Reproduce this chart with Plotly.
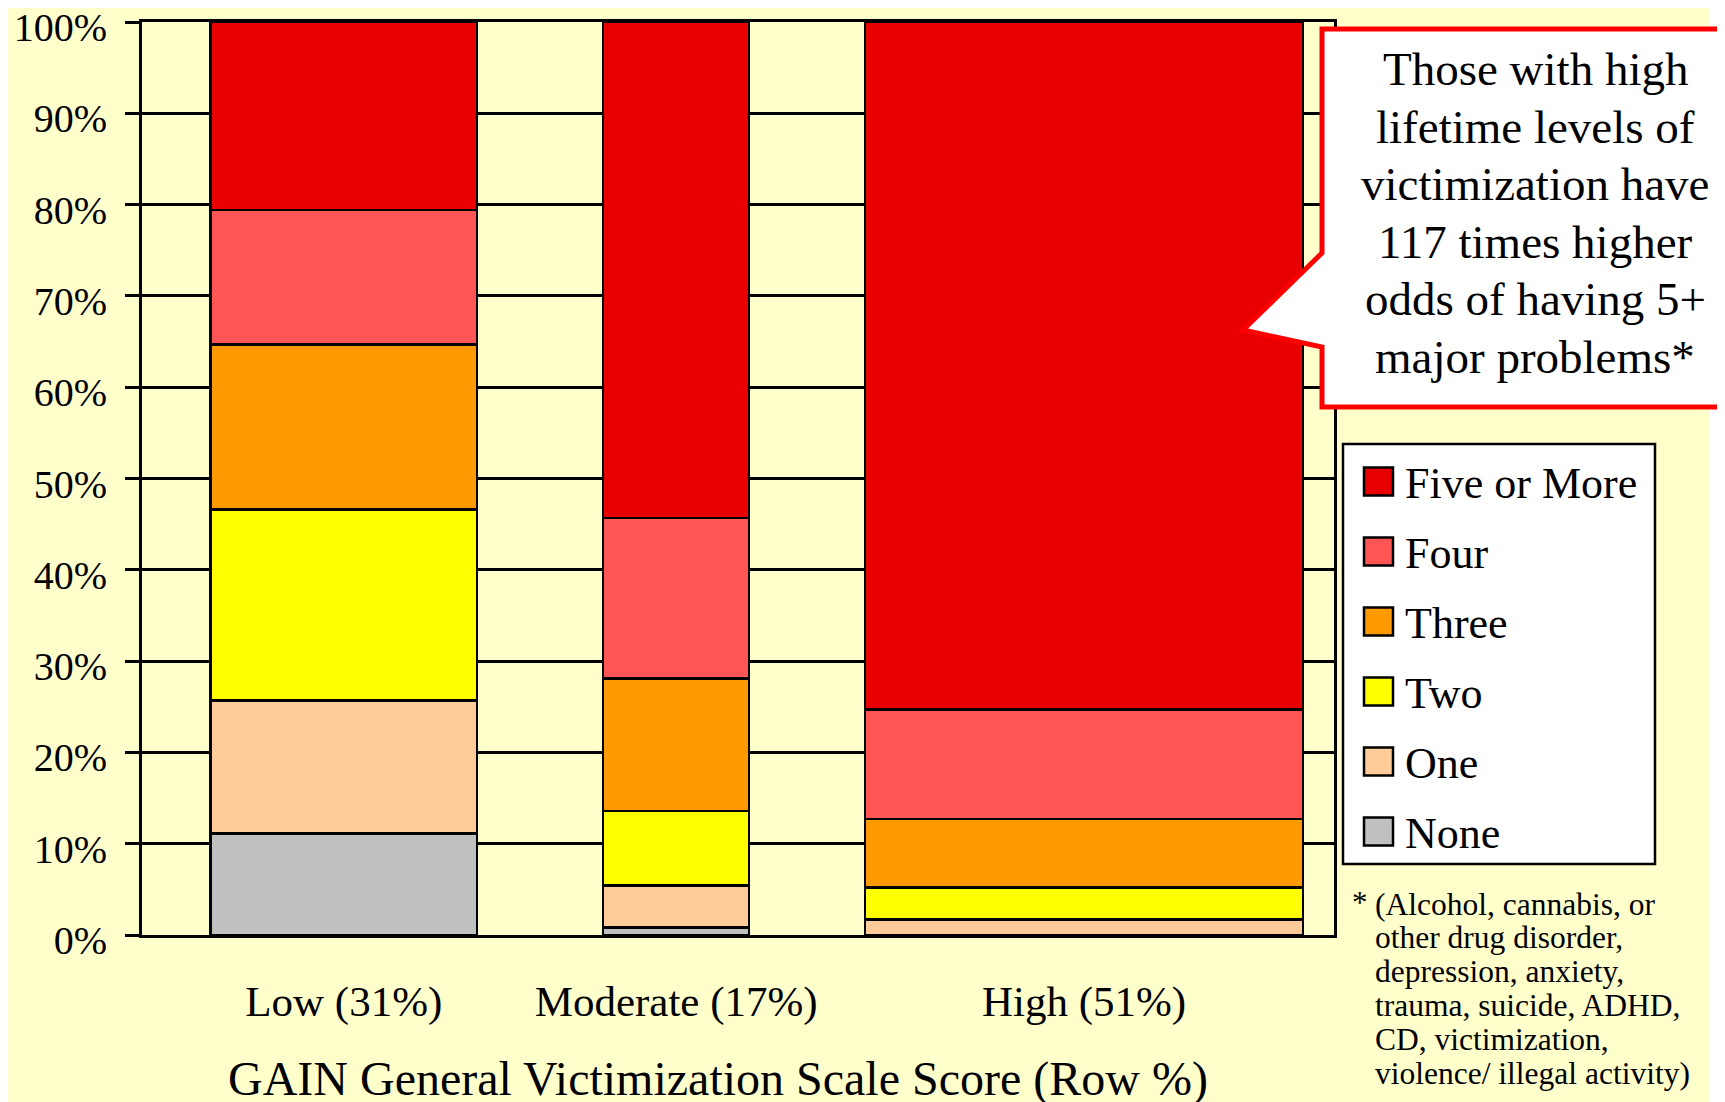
import plotly.graph_objects as go

# ==========================================================
# DATA
# ==========================================================

groups = ["Low", "Moderate", "High"]
group_share = [31, 17, 51]          # row % -> bar width

series = ["None", "One", "Two", "Three", "Four", "Five or More"]
none_vals = [11.1, 0.8, 0.0]
one_vals = [14.6, 4.6, 1.7]
two_vals = [20.9, 8.2, 3.5]
three_vals = [18.1, 14.5, 7.5]
four_vals = [14.7, 17.6, 12.0]
five_vals = [20.6, 54.3, 75.3]

y_ticks = [0, 10, 20, 30, 40, 50, 60, 70, 80, 90, 100]
y_tick_labels = [f"{v}%" for v in y_ticks]

callout_lines = [
    "Those with high",
    "lifetime levels of",
    "victimization have",
    "117 times higher",
    "odds of having 5+",
    "major problems*",
]

footnote_lines = [
    "(Alcohol, cannabis, or",
    "other drug disorder,",
    "depression, anxiety,",
    "trauma, suicide, ADHD,",
    "CD, victimization,",
    "violence/ illegal activity)",
]

# ==========================================================
# STYLE / LAYOUT CONSTANTS
# ==========================================================

FONT = "Liberation Serif, Times New Roman, serif"
BG = "#FFFFCC"
COLORS = {
    "None": "#C0C0C0",
    "One": "#FFCC99",
    "Two": "#FFFF00",
    "Three": "#FF9900",
    "Four": "#FF5555",
    "Five or More": "#E80000",
}

W, H = 1725, 1102
OFF = 8                              # page body margin in the browser
L, R, T, B = 142, 1334, 22, 935     # plot area in page pixels

X_RANGE = 138.8                      # axis width in share units
bar_left = [8.0, 53.7, 84.2]         # left edge of each bar
group_ticks = [0, 45.9, 78.6, X_RANGE]


def px_x(x):
    return (x - L) / (R - L)


def px_y(y):
    return (B - y) / (B - T)


centers = [left + w / 2 for left, w in zip(bar_left, group_share)]
labels = [f"{g} ({s}%)" for g, s in zip(groups, group_share)]
values = [none_vals, one_vals, two_vals, three_vals, four_vals, five_vals]

# ==========================================================
# BARS
# ==========================================================

fig = go.Figure()

for name, vals in zip(series, values):
    fig.add_trace(
        go.Bar(
            name=name,
            x=centers,
            y=vals,
            width=group_share,
            marker=dict(color=COLORS[name], line=dict(color="black", width=2.5)),
            showlegend=False,
        )
    )

fig.update_layout(
    width=W,
    height=H,
    barmode="stack",
    paper_bgcolor=BG,
    plot_bgcolor=BG,
    margin=dict(l=L - OFF, r=W - R + OFF, t=T - OFF, b=H - B + OFF, autoexpand=False),
    font=dict(family=FONT, color="black"),
)

fig.update_xaxes(
    range=[0, X_RANGE],
    tickvals=centers,
    ticktext=labels,
    ticks="",
    ticklabelstandoff=26,
    tickfont=dict(size=43, family=FONT),
    showgrid=False,
    zeroline=False,
    showline=True,
    linecolor="black",
    linewidth=3,
    mirror=True,
    automargin=False,
)

fig.update_layout(
    xaxis2=dict(
        overlaying="x",
        anchor="y",
        side="bottom",
        range=[0, X_RANGE],
        tickvals=group_ticks,
        ticks="outside",
        ticklen=14,
        tickwidth=3,
        tickcolor="black",
        showticklabels=False,
        showgrid=False,
        zeroline=False,
        showline=False,
        automargin=False,
    )
)

fig.update_yaxes(
    range=[0, 100],
    tickvals=y_ticks,
    ticktext=y_tick_labels,
    ticks="outside",
    ticklen=14,
    tickwidth=3,
    tickcolor="black",
    ticklabelstandoff=10,
    ticklabelshift=5,
    ticklabeloverflow="allow",
    tickfont=dict(size=40, family=FONT),
    showgrid=True,
    gridcolor="black",
    gridwidth=2.5,
    zeroline=False,
    showline=True,
    linecolor="black",
    linewidth=3,
    mirror=True,
    automargin=False,
)

# ==========================================================
# AXIS TITLE
# ==========================================================

fig.add_annotation(
    text="GAIN General Victimization Scale Score (Row %)",
    xref="paper", yref="paper",
    x=px_x(718), y=px_y(1079),
    xanchor="center", yanchor="middle",
    showarrow=False,
    font=dict(size=48, family=FONT),
)

# ==========================================================
# CALLOUT
# ==========================================================

shapes = []

# white strip at the right edge of the slide
shapes.append(dict(
    type="rect", xref="paper", yref="paper",
    x0=px_x(1709), x1=px_x(W + 30), y0=px_y(H + 30), y1=px_y(-30),
    fillcolor="white", line=dict(width=0), layer="above",
))

pts = [(1322, 29), (1750, 29), (1750, 407), (1322, 407),
       (1322, 347), (1243, 330), (1322, 253)]
path = "M " + " L ".join(f"{px_x(x):.5f},{px_y(y):.5f}" for x, y in pts) + " Z"
shapes.append(dict(
    type="path", xref="paper", yref="paper", path=path,
    fillcolor="white", line=dict(color="#FF0000", width=5), layer="above",
))

for i, line in enumerate(callout_lines):
    fig.add_annotation(
        text=line,
        xref="paper", yref="paper",
        x=px_x(1535), y=px_y(69 + i * 57.6),
        xanchor="center", yanchor="middle",
        showarrow=False,
        font=dict(size=47, family=FONT),
    )

# ==========================================================
# LEGEND (drawn by hand for large swatches)
# ==========================================================

shapes.append(dict(
    type="rect", xref="paper", yref="paper",
    x0=px_x(1343), x1=px_x(1655), y0=px_y(864), y1=px_y(444),
    fillcolor="white", line=dict(color="black", width=2.5), layer="above",
))

for i, name in enumerate(reversed(series)):
    cy = 481.6 + i * 70
    shapes.append(dict(
        type="rect", xref="paper", yref="paper",
        x0=px_x(1364), x1=px_x(1393), y0=px_y(cy + 14), y1=px_y(cy - 14),
        fillcolor=COLORS[name], line=dict(color="black", width=2.5), layer="above",
    ))
    fig.add_annotation(
        text=name,
        xref="paper", yref="paper",
        x=px_x(1403), y=px_y(cy + 2),
        xanchor="left", yanchor="middle",
        showarrow=False,
        font=dict(size=44, family=FONT),
    )

# ==========================================================
# FOOTNOTE
# ==========================================================

fig.add_annotation(
    text="*",
    xref="paper", yref="paper",
    x=px_x(1350), y=px_y(902),
    xanchor="left", yanchor="middle",
    showarrow=False,
    font=dict(size=31, family=FONT),
)

for i, line in enumerate(footnote_lines):
    fig.add_annotation(
        text=line,
        xref="paper", yref="paper",
        x=px_x(1373), y=px_y(904 + i * 33.8),
        xanchor="left", yanchor="middle",
        showarrow=False,
        font=dict(size=31.5, family=FONT),
    )

fig.update_layout(shapes=shapes)

fig.write_html("out.html")
